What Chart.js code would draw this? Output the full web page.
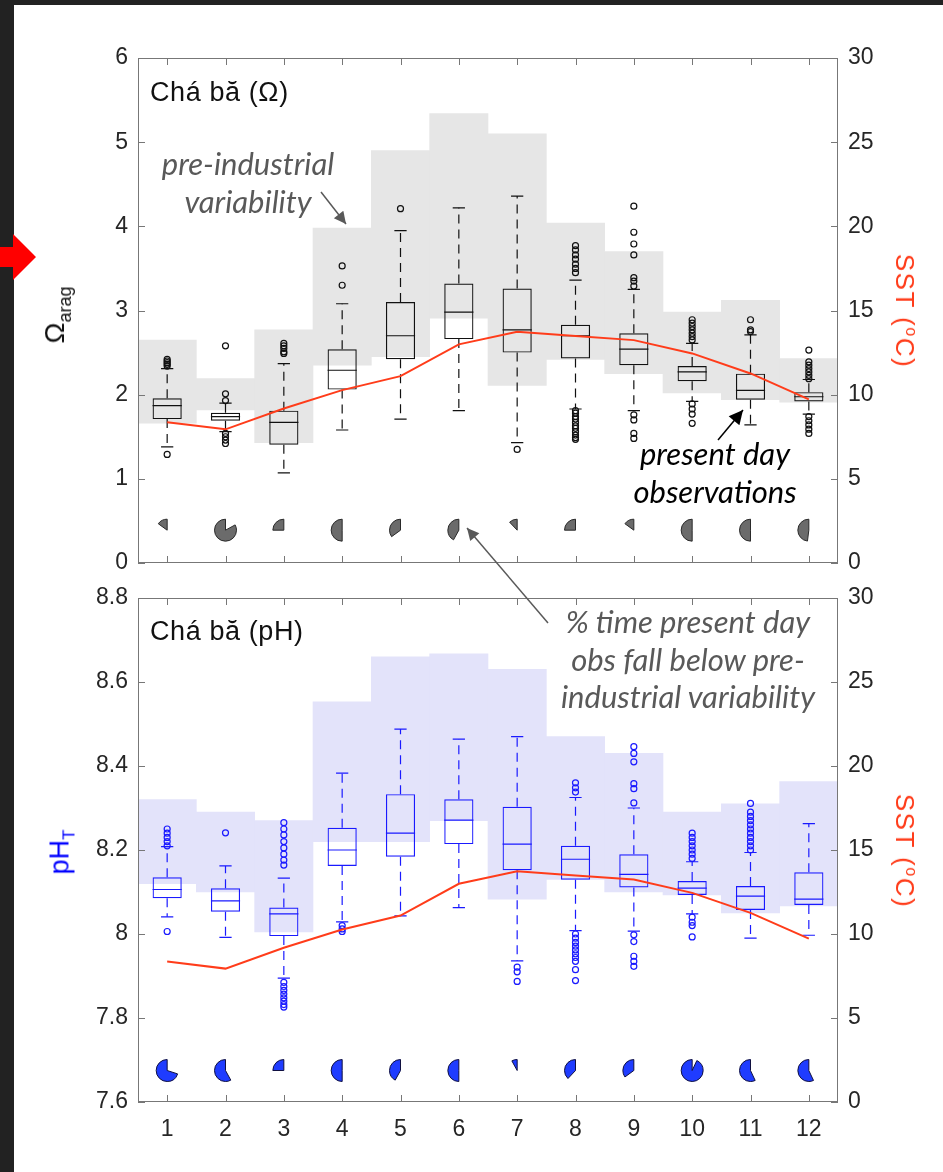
<!DOCTYPE html>
<html>
<head>
<meta charset="utf-8">
<script src="https://cdn.jsdelivr.net/npm/chart.js@4.4.0/dist/chart.umd.min.js"></script>
<style>
html, body { margin: 0; padding: 0; background: #fff; }
#page { position: relative; width: 943px; height: 1172px; overflow: hidden; background: #fff; font-family: "Liberation Sans", Arial, sans-serif; }
.darkTop { position: absolute; left: 0; top: 0; width: 943px; height: 5px; background: #222; }
.darkLeft { position: absolute; left: 0; top: 0; width: 14px; height: 1172px; background: #222; }
canvas { position: absolute; left: 0; }
#chartOmega { top: 0; }
#chartPH { top: 580px; }
.title { position: absolute; font-size: 27px; letter-spacing: 0.6px; line-height: 27px; color: #111; white-space: nowrap; }
.note { position: absolute; font-family: Lato, "Open Sans", sans-serif; font-style: italic; font-size: 31px; line-height: 37.5px; text-align: center; color: #595959; white-space: nowrap; transform: translateX(-50%); }
.ylab { position: absolute; white-space: nowrap; line-height: 1; }
.ylab sub, .ylab sup { line-height: 0; }
svg { position: absolute; left: 0; top: 0; }
</style>
</head>
<body>
<div id="page">
  <div class="darkTop"></div>
  <div class="darkLeft"></div>
  <canvas id="chartOmega" width="943" height="590"></canvas>
  <canvas id="chartPH" width="943" height="592"></canvas>

  <div class="title" style="left:150px;top:79px;">Chá bă (Ω)</div>
  <div class="title" style="left:150px;top:618px;">Chá bă (pH)</div>

  <div class="ylab" style="left:55px;top:315px;font-size:28px;color:#111;transform:translate(-50%,-50%) rotate(-90deg);">Ω<sub style="font-size:18px;">arag</sub></div>
  <div class="ylab" style="left:60px;top:852px;font-size:27px;color:#0000ff;transform:translate(-50%,-50%) rotate(-90deg);">pH<sub style="font-size:17px;">T</sub></div>
  <div class="ylab" style="left:905px;top:311px;font-size:26px;letter-spacing:1.5px;color:#ff3c1a;transform:translate(-50%,-50%) rotate(90deg);">SST (<sup style="font-size:16px;">o</sup>C)</div>
  <div class="ylab" style="left:905px;top:851px;font-size:26px;letter-spacing:1.5px;color:#ff3c1a;transform:translate(-50%,-50%) rotate(90deg);">SST (<sup style="font-size:16px;">o</sup>C)</div>

  <div class="note" style="left:248px;top:145px;">pre-industrial<br>variability</div>
  <div class="note" style="left:715px;top:435px;color:#000;">present day<br>observations</div>
  <div class="note" style="left:688px;top:603px;">% time present day<br>obs fall below pre-<br>industrial variability</div>

  <svg width="943" height="1172">
    <defs>
      <marker id="headGray" viewBox="0 0 10 10" refX="10" refY="5" markerWidth="15" markerHeight="12" markerUnits="userSpaceOnUse" orient="auto">
        <path d="M0,0 L10,5 L0,10 z" fill="#595959"></path>
      </marker>
      <marker id="headBlack" viewBox="0 0 10 10" refX="10" refY="5" markerWidth="17" markerHeight="14" markerUnits="userSpaceOnUse" orient="auto">
        <path d="M0,0 L10,5 L0,10 z" fill="#000"></path>
      </marker>
    </defs>
    <line x1="321" y1="192" x2="346" y2="224" stroke="#595959" stroke-width="1.5" marker-end="url(#headGray)"></line>
    <line x1="718" y1="440" x2="743" y2="410" stroke="#000" stroke-width="1.5" marker-end="url(#headBlack)"></line>
    <line x1="548" y1="623" x2="467" y2="528" stroke="#595959" stroke-width="1.5" marker-end="url(#headGray)"></line>
    <polygon points="0,247 13,247 13,234 36,257 13,280 13,267 0,267" fill="#ff0000"></polygon>
  </svg>
</div>

<script>
// months and shared sea surface temperature (right axis)
const months = [1, 2, 3, 4, 5, 6, 7, 8, 9, 10, 11, 12];
const sst = [8.36, 7.94, 9.18, 10.27, 11.10, 12.99, 13.74, 13.48, 13.24, 12.45, 11.26, 9.72];

// aragonite saturation (top panel)
const omegaPreLow  = [1.66, 1.82, 1.43, 2.35, 2.45, 2.91, 2.11, 2.42, 2.25, 2.02, 1.94, 1.91];
const omegaPreHigh = [2.65, 2.19, 2.77, 3.98, 4.90, 5.34, 5.10, 4.04, 3.70, 2.98, 3.12, 2.43];
const omegaQ1      = [1.71, 1.69, 1.405, 2.06, 2.42, 2.66, 2.50, 2.43, 2.35, 2.16, 1.94, 1.92];
const omegaMedian  = [1.87, 1.74, 1.67, 2.29, 2.70, 2.98, 2.77, 2.70, 2.54, 2.27, 2.05, 1.975];
const omegaQ3      = [1.956, 1.785, 1.81, 2.54, 3.10, 3.32, 3.26, 2.83, 2.73, 2.34, 2.25, 2.03];
const omegaWhiskLo = [1.38, 1.56, 1.07, 1.58, 1.71, 1.81, 1.43, 1.83, 1.81, 1.92, 1.64, 1.77];
const omegaWhiskHi = [2.31, 1.90, 2.37, 3.08, 3.95, 4.22, 4.36, 3.36, 3.25, 2.61, 2.71, 2.18];
const omegaOutliers = [
  [2.34, 2.36, 2.38, 2.40, 2.42, 1.29],
  [2.58, 2.01, 1.93, 1.54, 1.50, 1.46, 1.42],
  [2.49, 2.51, 2.55, 2.58, 2.61],
  [3.53, 3.30],
  [4.21],
  [],
  [1.35],
  [3.77, 3.72, 3.66, 3.61, 3.55, 3.50, 3.45, 1.81, 1.78, 1.74, 1.71, 1.67, 1.63, 1.60, 1.56, 1.52, 1.49, 1.47],
  [4.24, 3.93, 3.79, 3.66, 3.39, 3.35, 3.29, 1.76, 1.70, 1.54, 1.48],
  [2.89, 2.85, 2.81, 2.77, 2.73, 2.69, 2.65, 1.89, 1.83, 1.77, 1.66],
  [2.89, 2.77, 2.75],
  [2.53, 2.39, 2.35, 2.31, 2.27, 2.23, 2.19, 1.74, 1.69, 1.64, 1.59, 1.54]
];
const omegaBelowPct = [0.15, 0.83, 0.25, 0.50, 0.35, 0.42, 0.12, 0.25, 0.15, 0.50, 0.50, 0.48];

// pH (bottom panel)
const phPreLow  = [8.12, 8.10, 8.005, 8.22, 8.22, 8.27, 8.083, 8.13, 8.10, 8.093, 8.05, 8.067];
const phPreHigh = [8.32, 8.29, 8.27, 8.553, 8.66, 8.667, 8.63, 8.47, 8.43, 8.29, 8.31, 8.363];
const phQ1      = [8.085, 8.053, 7.995, 8.162, 8.184, 8.214, 8.152, 8.129, 8.111, 8.093, 8.057, 8.069];
const phMedian  = [8.106, 8.079, 8.048, 8.20, 8.24, 8.271, 8.214, 8.178, 8.142, 8.109, 8.09, 8.083];
const phQ3      = [8.135, 8.109, 8.063, 8.253, 8.333, 8.321, 8.303, 8.21, 8.19, 8.126, 8.114, 8.147];
const phWhiskLo = [8.041, 7.992, 7.895, 8.029, 8.043, 8.063, 7.936, 8.008, 8.007, 8.048, 7.99, 7.997];
const phWhiskHi = [8.208, 8.162, 8.133, 8.383, 8.488, 8.464, 8.470, 8.325, 8.30, 8.172, 8.194, 8.263];
const phOutliers = [
  [8.21, 8.22, 8.23, 8.24, 8.25, 8.006],
  [8.241],
  [8.265, 8.25, 8.236, 8.22, 8.205, 8.19, 8.176, 8.164, 7.885, 7.875, 7.866, 7.857, 7.848, 7.84, 7.832, 7.826],
  [8.02, 8.012, 8.006],
  [],
  [],
  [7.921, 7.91, 7.887],
  [8.36, 8.348, 8.338, 8.0, 7.99, 7.98, 7.971, 7.962, 7.953, 7.944, 7.935, 7.915, 7.889],
  [8.446, 8.43, 8.41, 8.358, 8.346, 8.312, 7.998, 7.982, 7.947, 7.935, 7.923],
  [8.24, 8.23, 8.22, 8.21, 8.20, 8.19, 8.18, 8.04, 8.028, 8.02, 7.993],
  [8.311, 8.29, 8.28, 8.27, 8.26, 8.25, 8.24, 8.23, 8.22, 8.21, 8.20],
  []
];
const phBelowPct = [0.70, 0.58, 0.25, 0.50, 0.42, 0.50, 0.08, 0.38, 0.35, 0.93, 0.57, 0.57];

// tick labels
const omegaTicks = [0, 1, 2, 3, 4, 5, 6];
const phTicks = [7.6, 7.8, 8, 8.2, 8.4, 8.6, 8.8];
const sstTicks = [0, 5, 10, 15, 20, 25, 30];

const tickFont = { family: '"Liberation Sans", Arial, sans-serif', size: 23 };

// median line, dashed whiskers and caps, drawn right after the box dataset
function boxExtras(s) {
  return {
    id: 'boxExtras',
    afterDatasetDraw(chart, args) {
      if (chart.data.datasets[args.index].label !== 'box') return;
      const ctx = chart.ctx, x = chart.scales.x, y = chart.scales.y;
      const half = (x.getPixelForValue(1.25) - x.getPixelForValue(1));
      const capHalf = half * 0.42;
      ctx.save();
      ctx.strokeStyle = s.color;
      ctx.lineWidth = 1.2;
      months.forEach((m, i) => {
        const cx = x.getPixelForValue(m);
        const pm = y.getPixelForValue(s.median[i]);
        ctx.setLineDash([]);
        ctx.beginPath();
        ctx.moveTo(cx - half, pm); ctx.lineTo(cx + half, pm);
        const hi = y.getPixelForValue(s.whiskHi[i]), lo = y.getPixelForValue(s.whiskLo[i]);
        ctx.moveTo(cx - capHalf, hi); ctx.lineTo(cx + capHalf, hi);
        ctx.moveTo(cx - capHalf, lo); ctx.lineTo(cx + capHalf, lo);
        ctx.stroke();
        ctx.setLineDash([9, 6]);
        ctx.beginPath();
        ctx.moveTo(cx, y.getPixelForValue(s.q3[i])); ctx.lineTo(cx, hi);
        ctx.moveTo(cx, y.getPixelForValue(s.q1[i])); ctx.lineTo(cx, lo);
        ctx.stroke();
      });
      ctx.restore();
    }
  };
}

// pies showing share of time below pre-industrial range
function piesPlugin(s) {
  return {
    id: 'pies',
    afterDatasetsDraw(chart) {
      const ctx = chart.ctx, x = chart.scales.x, y = chart.scales.y;
      const cy = y.getPixelForValue(s.pieLevel);
      ctx.save();
      months.forEach((m, i) => {
        const cx = x.getPixelForValue(m);
        const f = s.pct[i];
        ctx.beginPath();
        ctx.moveTo(cx, cy);
        ctx.arc(cx, cy, 11, -Math.PI / 2, -Math.PI / 2 - f * 2 * Math.PI, true);
        ctx.closePath();
        ctx.fillStyle = s.pieColor;
        ctx.fill();
        ctx.strokeStyle = s.pieEdge;
        ctx.lineWidth = 1;
        ctx.stroke();
      });
      ctx.restore();
    }
  };
}

// box frame with inward ticks
const framePlugin = {
  id: 'frame',
  afterDraw(chart) {
    const { ctx, chartArea: a, scales } = chart;
    ctx.save();
    ctx.strokeStyle = '#777';
    ctx.lineWidth = 1;
    ctx.strokeRect(Math.round(a.left) + 0.5, Math.round(a.top) + 0.5, Math.round(a.right - a.left) - 1, Math.round(a.bottom - a.top) - 1);
    ctx.beginPath();
    scales.x.ticks.forEach(t => {
      const px = Math.round(scales.x.getPixelForValue(t.value)) + 0.5;
      ctx.moveTo(px, a.bottom); ctx.lineTo(px, a.bottom - 7);
      ctx.moveTo(px, a.top); ctx.lineTo(px, a.top + 7);
    });
    scales.y.ticks.forEach(t => {
      const py = Math.round(scales.y.getPixelForValue(t.value)) + 0.5;
      ctx.moveTo(a.left, py); ctx.lineTo(a.left + 7, py);
    });
    scales.y2.ticks.forEach(t => {
      const py = Math.round(scales.y2.getPixelForValue(t.value)) + 0.5;
      ctx.moveTo(a.right, py); ctx.lineTo(a.right - 7, py);
    });
    ctx.stroke();
    ctx.restore();
  }
};

function drawPanel(canvasId, s) {
  const outPts = [];
  s.outliers.forEach((list, i) => list.forEach(v => outPts.push({ x: months[i], y: v })));

  return new Chart(document.getElementById(canvasId), {
    type: 'bar',
    data: {
      datasets: [
        {
          type: 'line', label: 'SST', yAxisID: 'y2',
          data: months.map((m, i) => ({ x: m, y: sst[i] })),
          borderColor: '#ff3c1a', borderWidth: 2, pointRadius: 0, tension: 0, order: 1
        },
        {
          type: 'scatter', label: 'outliers', yAxisID: 'y', data: outPts,
          pointRadius: 3, pointBorderWidth: 1.2, pointBorderColor: s.color,
          pointBackgroundColor: 'rgba(0,0,0,0)', borderColor: s.color, backgroundColor: 'rgba(0,0,0,0)', order: 2
        },
        {
          label: 'box', yAxisID: 'y',
          data: months.map((m, i) => ({ x: m, y: [s.q1[i], s.q3[i]] })),
          backgroundColor: 'rgba(0,0,0,0)', borderColor: s.color, borderWidth: 1.2, borderSkipped: false,
          grouped: false, barPercentage: 0.5, categoryPercentage: 1, order: 3
        },
        {
          label: 'pre-industrial', yAxisID: 'y',
          data: months.map((m, i) => ({ x: m, y: [s.preLow[i], s.preHigh[i]] })),
          backgroundColor: s.band, borderWidth: 0, grouped: false, barPercentage: 1, categoryPercentage: 1, order: 4
        }
      ]
    },
    options: {
      responsive: false,
      animation: false,
      layout: { padding: { top: s.padTop, left: 0, right: 0, bottom: 0 } },
      plugins: { legend: { display: false }, tooltip: { enabled: false } },
      scales: {
        x: {
          type: 'linear', min: 0.5, max: 12.5, offset: false,
          grid: { display: false }, border: { display: false },
          afterBuildTicks: sc => { sc.ticks = months.map(v => ({ value: v })); },
          afterFit: sc => { sc.height = s.xHeight; },
          ticks: { display: s.showX, color: '#262626', font: tickFont, padding: 6, maxRotation: 0, autoSkip: false }
        },
        y: {
          position: 'left', min: s.yMin, max: s.yMax,
          grid: { display: false }, border: { display: false },
          afterBuildTicks: sc => { sc.ticks = s.ticks.map(v => ({ value: v })); },
          afterFit: sc => { sc.width = 138; },
          ticks: { color: '#262626', font: tickFont, padding: 2, callback: v => String(+v.toFixed(2)) }
        },
        y2: {
          position: 'right', min: 0, max: 30,
          grid: { display: false }, border: { display: false },
          afterBuildTicks: sc => { sc.ticks = sstTicks.map(v => ({ value: v })); },
          afterFit: sc => { sc.width = 105; },
          ticks: { color: '#262626', font: tickFont, padding: 2 }
        }
      }
    },
    plugins: [boxExtras(s), piesPlugin(s), framePlugin]
  });
}

drawPanel('chartOmega', {
  padTop: 58, xHeight: 27, showX: false,
  yMin: 0, yMax: 6, ticks: omegaTicks,
  preLow: omegaPreLow, preHigh: omegaPreHigh,
  q1: omegaQ1, median: omegaMedian, q3: omegaQ3,
  whiskLo: omegaWhiskLo, whiskHi: omegaWhiskHi, outliers: omegaOutliers,
  pct: omegaBelowPct, pieLevel: 0.39,
  color: '#111', band: '#e6e6e6', pieColor: '#6b6b6b', pieEdge: '#2a2a2a'
});

drawPanel('chartPH', {
  padTop: 18, xHeight: 70, showX: true,
  yMin: 7.6, yMax: 8.8, ticks: phTicks,
  preLow: phPreLow, preHigh: phPreHigh,
  q1: phQ1, median: phMedian, q3: phQ3,
  whiskLo: phWhiskLo, whiskHi: phWhiskHi, outliers: phOutliers,
  pct: phBelowPct, pieLevel: 7.675,
  color: '#1a1aff', band: '#e3e3fa', pieColor: '#1f3cff', pieEdge: '#101040'
});
</script>
</body>
</html>
